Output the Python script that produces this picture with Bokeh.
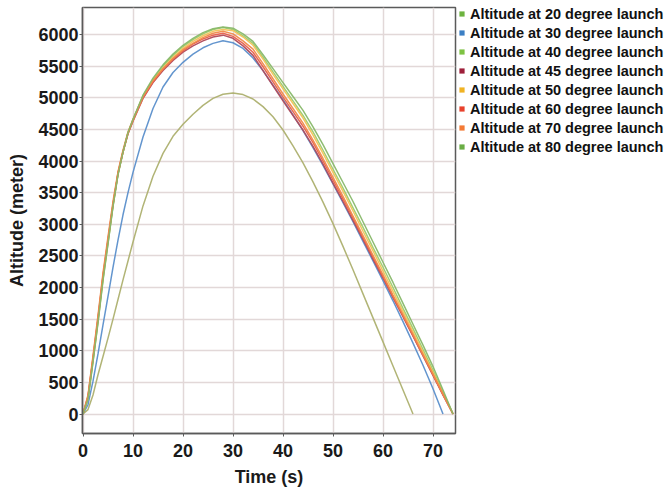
from bokeh.plotting import figure
from bokeh.models import Legend, LegendItem, SingleIntervalTicker, Range1d
from bokeh.embed import file_html
from bokeh.resources import INLINE

# ---------------- data ----------------
t_band = [0, 1, 2, 3, 4, 5, 6, 7, 8, 9, 10, 12, 14, 16, 18, 20, 22, 24, 26, 28, 30,
          32, 34, 36, 38, 40, 42, 44, 46, 48, 50, 52, 54, 56, 58, 60, 62, 64, 66, 68,
          70, 72, 74]

t_30 = [0, 1, 2, 3, 4, 5, 6, 7, 8, 9, 10, 12, 14, 16, 18, 20, 22, 24, 26, 28, 30,
        32, 34, 36, 38, 40, 42, 44, 46, 48, 50, 52, 54, 56, 58, 60, 62, 64, 66, 68,
        70, 72]

t_20 = [0, 1, 2, 3, 4, 5, 6, 7, 8, 9, 10, 12, 14, 16, 18, 20, 22, 24, 26, 28, 30,
        32, 34, 36, 38, 40, 42, 44, 46, 48, 50, 52, 54, 56, 58, 60, 62, 64, 66]

alt_20 = [0, 70, 300, 620, 910, 1200, 1500, 1810, 2120, 2420, 2720, 3290, 3760, 4120,
          4390, 4580, 4740, 4880, 4990, 5055, 5075, 5050, 4980, 4860, 4700, 4490, 4240,
          3970, 3670, 3350, 3010, 2650, 2280, 1900, 1520, 1140, 760, 380, 0]

alt_30 = [0, 150, 520, 950, 1410, 1860, 2320, 2750, 3150, 3500, 3820, 4380, 4830, 5170,
          5400, 5560, 5690, 5790, 5860, 5900, 5870, 5780, 5630, 5430, 5200, 4970, 4730,
          4480, 4210, 3930, 3640, 3340, 3040, 2730, 2420, 2110, 1790, 1460, 1120, 770,
          400, 0]

alt_40 = [0, 240, 830, 1460, 2130, 2700, 3290, 3790, 4140, 4440, 4650, 5030, 5290, 5500,
          5670, 5810, 5920, 6010, 6080, 6110, 6080, 5980, 5860, 5640, 5410, 5180, 4950,
          4720, 4460, 4170, 3870, 3570, 3260, 2950, 2630, 2320, 2000, 1670, 1350, 1020,
          690, 350, 0]

alt_45 = [0, 270, 870, 1500, 2170, 2740, 3310, 3800, 4140, 4430, 4630, 4990, 5240, 5430,
          5590, 5720, 5820, 5900, 5960, 5990, 5940, 5820, 5670, 5430, 5190, 4950, 4720,
          4490, 4230, 3950, 3650, 3360, 3060, 2760, 2450, 2150, 1840, 1540, 1230, 920,
          610, 300, 0]

alt_50 = [0, 250, 850, 1480, 2150, 2720, 3300, 3800, 4140, 4440, 4640, 5010, 5270, 5470,
          5640, 5780, 5890, 5980, 6050, 6080, 6060, 5960, 5830, 5610, 5370, 5140, 4910,
          4680, 4410, 4120, 3820, 3520, 3210, 2890, 2580, 2260, 1940, 1620, 1300, 980,
          660, 330, 0]

alt_60 = [0, 280, 890, 1520, 2190, 2760, 3320, 3810, 4150, 4440, 4640, 5000, 5250, 5450,
          5610, 5740, 5850, 5930, 5990, 6020, 5970, 5860, 5720, 5490, 5250, 5010, 4780,
          4550, 4290, 4000, 3700, 3400, 3100, 2790, 2480, 2170, 1860, 1550, 1240, 930,
          620, 310, 0]

alt_70 = [0, 300, 920, 1560, 2230, 2800, 3360, 3830, 4170, 4460, 4660, 5020, 5270, 5460,
          5620, 5760, 5860, 5950, 6020, 6050, 6010, 5900, 5770, 5540, 5300, 5060, 4830,
          4600, 4330, 4040, 3740, 3440, 3130, 2820, 2510, 2200, 1880, 1570, 1260, 940,
          630, 310, 0]

alt_80 = [0, 230, 820, 1440, 2110, 2690, 3280, 3780, 4140, 4450, 4660, 5040, 5310, 5520,
          5690, 5830, 5940, 6030, 6090, 6120, 6100, 6010, 5890, 5680, 5460, 5240, 5020,
          4800, 4540, 4260, 3960, 3660, 3360, 3040, 2720, 2400, 2080, 1750, 1420, 1090,
          750, 380, 0]

labels = ["Altitude at 20 degree launch", "Altitude at 30 degree launch",
          "Altitude at 40 degree launch", "Altitude at 45 degree launch",
          "Altitude at 50 degree launch", "Altitude at 60 degree launch",
          "Altitude at 70 degree launch", "Altitude at 80 degree launch"]

legend_colors = ["#6db33f", "#3b7fc4", "#7dc242", "#9e1f3a",
                 "#f0b323", "#e8412c", "#f47a35", "#6aad45"]
line_colors = ["#adb06f", "#5b8fcb", "#9ccc6a", "#b04a5a",
               "#f2c25a", "#e8604c", "#f08a4a", "#88b86a"]

series_t = [t_20, t_30, t_band, t_band, t_band, t_band, t_band, t_band]
series_alt = [alt_20, alt_30, alt_40, alt_45, alt_50, alt_60, alt_70, alt_80]

NAN = float("nan")

# ---------------- figure ----------------
FW, FH = 373, 426
p = figure(frame_width=FW, frame_height=FH, output_backend="svg",
           toolbar_location=None, x_range=Range1d(-0.1, 74.5),
           y_range=Range1d(-308, 6427), min_border_top=7, min_border_left=82,
           min_border_bottom=0, min_border_right=0,
           background_fill_color="white", border_fill_color="white")

p.outline_line_color = "#5a5a5a"
p.outline_line_width = 1.5

for ax in (p.xaxis[0], p.yaxis[0]):
    ax.axis_line_color = "#5a5a5a"
    ax.axis_line_width = 1.5
    ax.major_tick_line_color = "#5a5a5a"
    ax.major_tick_out = 3
    ax.major_tick_in = 0
    ax.minor_tick_line_color = None
    ax.major_label_text_font = "Liberation Sans"
    ax.major_label_text_font_style = "bold"
    ax.major_label_text_font_size = "18px"
    ax.major_label_text_color = "#1a1a1a"
    ax.axis_label_text_font = "Liberation Sans"
    ax.axis_label_text_font_style = "bold"
    ax.axis_label_text_font_size = "18px"
    ax.axis_label_text_color = "#1a1a1a"

p.xaxis.ticker = SingleIntervalTicker(interval=10)
p.yaxis.ticker = SingleIntervalTicker(interval=500)
p.xaxis.axis_label = "Time (s)"
p.yaxis.axis_label = "Altitude (meter)"
p.xaxis.major_label_standoff = 6
p.xaxis.axis_label_standoff = 7
p.yaxis.major_label_standoff = 0
p.yaxis.axis_label_standoff = 8

p.xgrid.ticker = SingleIntervalTicker(interval=10)
p.ygrid.ticker = SingleIntervalTicker(interval=500)
p.grid.grid_line_color = "#e2d8d8"
p.grid.grid_line_width = 1.5

for ts, al, c in zip(series_t, series_alt, line_colors):
    p.line(ts, al, line_color=c, line_width=1.5, line_alpha=0.95)

items = []
for lab, c in zip(labels, legend_colors):
    r = p.scatter([NAN], [NAN], marker="square", fill_color=c, line_color=None)
    items.append(LegendItem(label=lab, renderers=[r]))

legend = Legend(items=items, location=(0, FH - 152 + 3))
legend.margin = 0
legend.padding = 0
legend.spacing = 0
legend.border_line_color = None
legend.background_fill_alpha = 0
legend.glyph_width = 13
legend.glyph_height = 19
legend.label_height = 19
legend.label_standoff = 2
legend.label_text_font = "Liberation Sans"
legend.label_text_font_style = "bold"
legend.label_text_font_size = "14.5px"
legend.label_text_color = "#111111"
p.add_layout(legend, "right")

open("out.html", "w").write(file_html(p, INLINE))
